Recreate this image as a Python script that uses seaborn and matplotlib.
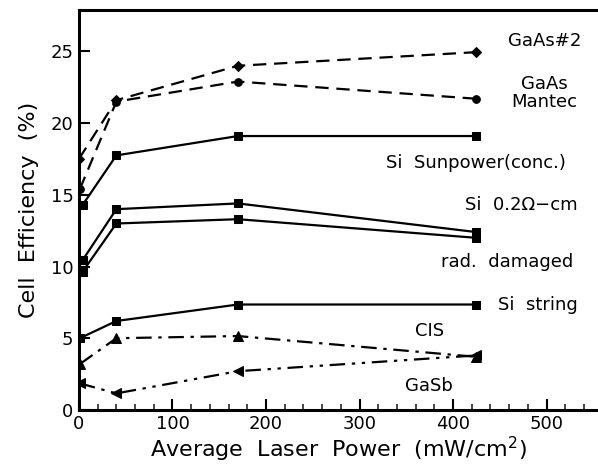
import matplotlib
matplotlib.use("Agg")
import matplotlib.pyplot as plt
import seaborn as sns
import pandas as pd
from matplotlib.ticker import MultipleLocator

sns.set_theme(style="ticks")
plt.rcParams['font.family'] = ['DejaVu Sans']

# Data
gaas2_x = [0, 40, 170, 425]
gaas2_y = [17.5, 21.6, 24.0, 24.95]
mantec_x = [1, 40, 170, 425]
mantec_y = [15.4, 21.5, 22.9, 21.7]
sunpower_x = [4, 40, 170, 425]
sunpower_y = [14.3, 17.75, 19.1, 19.1]
si02_x = [4, 40, 170, 425]
si02_y = [10.45, 14.0, 14.4, 12.4]
raddam_x = [4, 40, 170, 425]
raddam_y = [9.65, 13.0, 13.3, 12.0]
sistring_x = [1, 40, 170, 425]
sistring_y = [5.0, 6.2, 7.35, 7.35]
cis_x = [1, 40, 170, 425]
cis_y = [3.2, 5.0, 5.15, 3.7]
gasb_x = [1, 40, 170, 425]
gasb_y = [1.85, 1.15, 2.7, 3.8]

labels = [
    ("GaAs#2", 498, 25.7),
    ("GaAs\nMantec", 498, 22.1),
    ("Si  Sunpower(conc.)", 424, 17.2),
    ("Si  0.2Ω−cm", 473, 14.3),
    ("rad.  damaged", 458, 10.3),
    ("Si  string", 491, 7.3),
    ("CIS", 375, 5.5),
    ("GaSb", 374, 1.7),
]

fig = plt.figure(figsize=(5.98, 4.69), dpi=100)
ax = fig.add_axes([0.132, 0.126, 0.868, 0.853])

series = [
    (gaas2_x, gaas2_y, "D", (0, (6, 3.5)), 5),
    (mantec_x, mantec_y, "o", (0, (6, 3.5)), 5.5),
    (sunpower_x, sunpower_y, "s", "-", 5.5),
    (si02_x, si02_y, "s", "-", 5.5),
    (raddam_x, raddam_y, "s", "-", 5.5),
    (sistring_x, sistring_y, "s", "-", 5.5),
    (cis_x, cis_y, "^", (0, (7, 3, 1.5, 3)), 6.5),
    (gasb_x, gasb_y, "<", (0, (7, 3, 1.5, 3, 1.5, 3)), 6.5),
]

for xs, ys, mk, ls, ms in series:
    df = pd.DataFrame({"x": xs, "y": ys})
    sns.lineplot(data=df, x="x", y="y", ax=ax, color="black", lw=1.6,
                 marker=mk, markersize=ms, markeredgecolor="black",
                 linestyle=ls, estimator=None, sort=False)

for txt, x, y in labels:
    ax.text(x, y, txt, ha="center", va="center", fontsize=13,
            linespacing=1.05, color="black")

ax.set_xlim(0, 555)
ax.set_ylim(0, 27.9)
ax.xaxis.set_major_locator(MultipleLocator(100))
ax.xaxis.set_minor_locator(MultipleLocator(20))
ax.yaxis.set_major_locator(MultipleLocator(5))
ax.tick_params(axis="both", which="major", direction="in", length=8, width=1.5,
               labelsize=13, colors="black", pad=4)
ax.tick_params(axis="x", which="minor", direction="in", length=4, width=1.2)
ax.set_xticks([0, 100, 200, 300, 400, 500])

for s in ["left", "bottom", "top"]:
    ax.spines[s].set_linewidth(2.2)
    ax.spines[s].set_color("black")
ax.spines["right"].set_visible(False)

ax.set_xlabel("Average  Laser  Power  (mW/cm$^2$)", fontsize=16, color="black", labelpad=1)
ax.set_ylabel("Cell  Efficiency  (%)", fontsize=16, color="black", labelpad=8)

fig.savefig("out.png", dpi=100)
